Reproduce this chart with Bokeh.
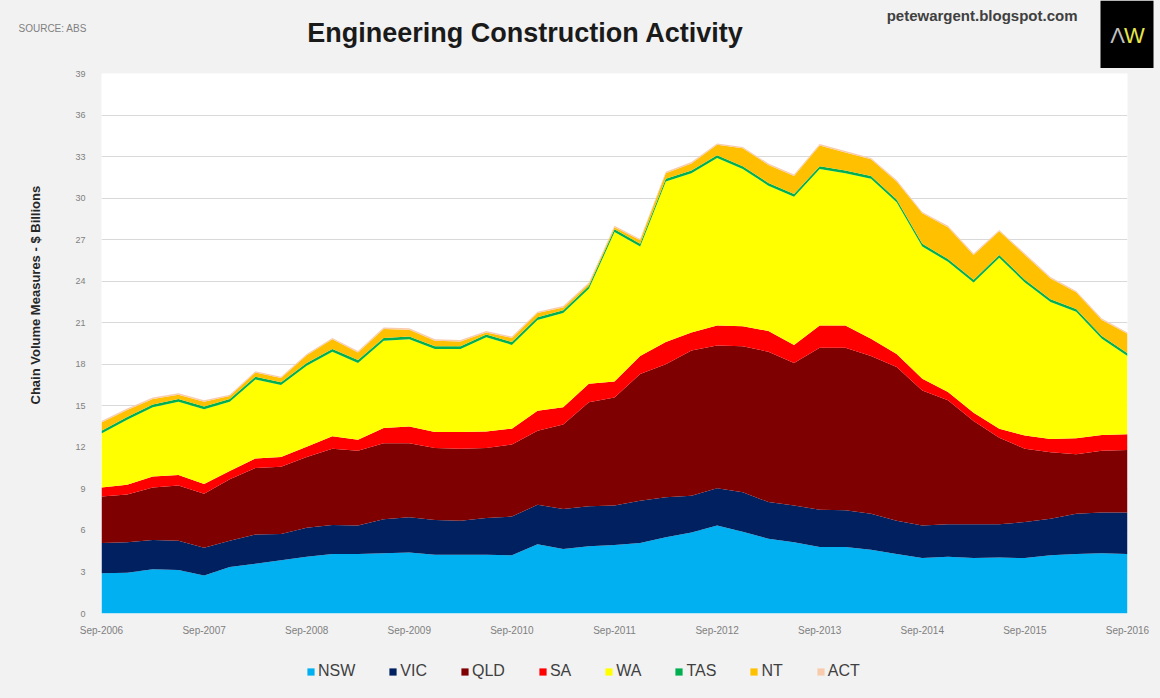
import math
from bokeh.plotting import figure
from bokeh.layouts import column, row
from bokeh.models import (ColumnDataSource, FixedTicker, Legend, LegendItem, Label, Range1d)
from bokeh.embed import file_html
from bokeh.resources import INLINE

# ---- data (quarterly, $ billions, chain volume) ----
months = ["Sep", "Dec", "Mar", "Jun"]
quarters = []
for k in range(41):
    m = months[k % 4]
    yr = 2006 + k // 4 if m in ("Sep", "Dec") else 2007 + k // 4
    quarters.append(f"{m}-{yr}")

tick_positions = [0, 4, 8, 12, 16, 20, 24, 28, 32, 36, 40]
tick_labels = ["Sep-2006", "Sep-2007", "Sep-2008", "Sep-2009", "Sep-2010", "Sep-2011",
               "Sep-2012", "Sep-2013", "Sep-2014", "Sep-2015", "Sep-2016"]

NSW = [2.9, 2.95, 3.2, 3.15, 2.75, 3.35, 3.6, 3.85, 4.1, 4.3, 4.3, 4.35, 4.4, 4.25, 4.25,
       4.25, 4.2, 5.0, 4.65, 4.85, 4.95, 5.1, 5.5, 5.85, 6.35, 5.9, 5.4, 5.15, 4.8, 4.8,
       4.6, 4.3, 4.0, 4.1, 4.0, 4.05, 4.0, 4.2, 4.3, 4.35, 4.3]
VIC = [2.2, 2.2, 2.1, 2.1, 2.0, 1.9, 2.1, 1.9, 2.1, 2.1, 2.05, 2.45, 2.55, 2.5, 2.45,
       2.65, 2.8, 2.85, 2.9, 2.9, 2.85, 3.05, 2.9, 2.65, 2.7, 2.85, 2.65, 2.65, 2.7, 2.65,
       2.6, 2.4, 2.35, 2.35, 2.45, 2.4, 2.6, 2.65, 2.9, 2.95, 3.0]
QLD = [3.35, 3.45, 3.8, 4.0, 3.9, 4.45, 4.8, 4.85, 5.1, 5.5, 5.4, 5.5, 5.35, 5.2, 5.2,
       5.05, 5.2, 5.35, 6.1, 7.5, 7.8, 9.15, 9.6, 10.5, 10.3, 10.55, 10.85, 10.3, 11.7, 11.75,
       11.4, 11.1, 9.75, 8.95, 7.45, 6.25, 5.3, 4.8, 4.3, 4.45, 4.5]
SA = [0.65, 0.7, 0.8, 0.75, 0.7, 0.6, 0.7, 0.7, 0.75, 0.9, 0.8, 1.1, 1.2, 1.15, 1.2,
      1.2, 1.15, 1.45, 1.25, 1.35, 1.15, 1.3, 1.6, 1.3, 1.45, 1.45, 1.5, 1.3, 1.6, 1.6,
      1.25, 0.95, 0.85, 0.6, 0.6, 0.65, 0.95, 0.95, 1.15, 1.15, 1.15]
WA = [3.9, 4.7, 5.0, 5.3, 5.4, 5.0, 5.7, 5.2, 5.85, 6.1, 5.55, 6.3, 6.3, 6.0, 6.0,
      6.8, 6.05, 6.55, 6.8, 6.85, 10.8, 7.9, 11.6, 11.5, 12.1, 11.35, 10.5, 10.7, 11.3, 11.0,
      11.55, 10.95, 9.55, 9.4, 9.4, 12.35, 11.05, 9.9, 9.15, 6.95, 5.65]
TAS = [0.2, 0.2, 0.2, 0.2, 0.2, 0.2, 0.2, 0.2, 0.2, 0.2, 0.2, 0.2, 0.2, 0.2, 0.2,
       0.2, 0.2, 0.2, 0.2, 0.2, 0.2, 0.2, 0.2, 0.2, 0.2, 0.2, 0.2, 0.2, 0.2, 0.2,
       0.2, 0.2, 0.2, 0.2, 0.2, 0.2, 0.2, 0.2, 0.2, 0.2, 0.2]
NT = [0.6, 0.5, 0.4, 0.3, 0.35, 0.2, 0.3, 0.3, 0.55, 0.7, 0.55, 0.65, 0.5, 0.4, 0.35,
      0.15, 0.3, 0.3, 0.2, 0.15, 0.15, 0.25, 0.4, 0.5, 0.75, 1.3, 1.3, 1.3, 1.5, 1.3,
      1.2, 1.3, 2.2, 2.3, 1.8, 1.7, 1.8, 1.5, 1.2, 1.15, 1.4]
ACT = [0.1, 0.1, 0.1, 0.1, 0.1, 0.1, 0.1, 0.1, 0.1, 0.1, 0.1, 0.1, 0.1, 0.1, 0.1,
       0.1, 0.1, 0.1, 0.1, 0.1, 0.1, 0.1, 0.1, 0.1, 0.1, 0.1, 0.1, 0.1, 0.1, 0.1,
       0.1, 0.1, 0.1, 0.1, 0.1, 0.1, 0.1, 0.1, 0.1, 0.1, 0.1]

states = ["NSW", "VIC", "QLD", "SA", "WA", "TAS", "NT", "ACT"]
colors = ["#00b0f0", "#002060", "#7f0000", "#ff0000", "#ffff00", "#00b050", "#ffc000", "#f8cbad"]

title_text = "Engineering Construction Activity"
source_text = "SOURCE: ABS"
site_text = "petewargent.blogspot.com"
ylabel_text = "Chain Volume Measures - $ Billions"

FONT = "Liberation Sans"
BG = "#f2f2f2"


def blank_fig(w, h, xr, yr):
    f = figure(width=w, height=h, x_range=xr, y_range=yr, output_backend="svg",
               toolbar_location=None, x_axis_location=None, y_axis_location=None,
               min_border=0, outline_line_color=None,
               background_fill_color=BG, border_fill_color=BG,
               styles={"background-color": BG})
    f.grid.visible = False
    return f


# ---- header (pixel-like ranges, y grows downward) ----
head = blank_fig(1160, 68, Range1d(0, 1160), Range1d(68, 0))
head.add_layout(Label(x=18, y=28, text=source_text, text_font=FONT, text_font_size="10px",
                      text_color="#7f7f7f", text_baseline="middle"))
head.add_layout(Label(x=525, y=32, text=title_text, text_font=FONT, text_font_size="27px",
                      text_font_style="bold", text_color="#1a1a1a",
                      text_align="center", text_baseline="middle"))
head.add_layout(Label(x=1077, y=15, text=site_text, text_font=FONT, text_font_size="15px",
                      text_font_style="bold", text_color="#404040",
                      text_align="right", text_baseline="middle"))
head.quad(left=[1100], right=[1153], top=[0], bottom=[68], fill_color="black", line_color=None)
head.add_layout(Label(x=1117, y=35, text="Λ", text_font=FONT, text_font_size="22px",
                      text_color="#bfbfbf", text_align="center", text_baseline="middle"))
head.add_layout(Label(x=1134, y=35, text="W", text_font=FONT, text_font_size="22px",
                      text_color="#e6e64c", text_align="center", text_baseline="middle"))

# ---- y-axis title column ----
ylab = blank_fig(50, 575, Range1d(0, 50), Range1d(575, 0))
ylab.add_layout(Label(x=35, y=236, text=ylabel_text, text_font=FONT, text_font_size="13px",
                      text_font_style="bold", text_color="#262626", angle=math.pi / 2,
                      text_align="center", text_baseline="middle"))

# ---- main chart ----
src = ColumnDataSource(dict(x=list(range(len(quarters))), quarter=quarters,
                            NSW=NSW, VIC=VIC, QLD=QLD, SA=SA, WA=WA, TAS=TAS, NT=NT, ACT=ACT))

p = figure(width=1110, height=575, x_range=Range1d(0, 40), y_range=Range1d(0, 39),
           output_backend="svg", toolbar_location=None,
           min_border_left=51, min_border_right=33, min_border_top=5, min_border_bottom=30,
           background_fill_color="white", border_fill_color=BG, outline_line_color=None,
           styles={"background-color": BG})

p.varea_stack(stackers=states, x="x", color=colors, source=src)

p.xaxis.ticker = FixedTicker(ticks=tick_positions)
p.xaxis.major_label_overrides = {t: l for t, l in zip(tick_positions, tick_labels)}
p.yaxis.ticker = FixedTicker(ticks=list(range(0, 40, 3)))
for ax in (p.xaxis, p.yaxis):
    ax.axis_line_color = None
    ax.major_tick_line_color = None
    ax.minor_tick_line_color = None
    ax.major_label_text_color = "#7f7f7f"
    ax.major_label_text_font = FONT
p.xaxis.major_label_text_font_size = "10px"
p.xaxis.major_label_standoff = 5
p.yaxis.major_label_text_font_size = "9px"
p.yaxis.major_label_standoff = 10

p.xgrid.grid_line_color = None
p.ygrid.grid_line_color = "#d9d9d9"

# ---- legend strip: same stacked series, kept out of view, only the legend shows ----
lf = blank_fig(1160, 55, Range1d(100, 101), Range1d(100, 101))
leg_renderers = lf.varea_stack(stackers=states, x="x", color=colors, source=src)
items = [LegendItem(label=s, renderers=[r]) for s, r in zip(states, leg_renderers)]
legend = Legend(items=items, orientation="horizontal", location=(306, 18),
                background_fill_alpha=0, border_line_color=None,
                label_text_font=FONT, label_text_font_size="16px",
                label_text_color="#404040", glyph_width=9, glyph_height=9,
                label_standoff=3, spacing=33, padding=5, margin=0)
lf.add_layout(legend)

layout = column(head, row(ylab, p, styles={"background-color": BG}), lf,
                styles={"background-color": BG})
open("out.html", "w").write(file_html(layout, INLINE))
